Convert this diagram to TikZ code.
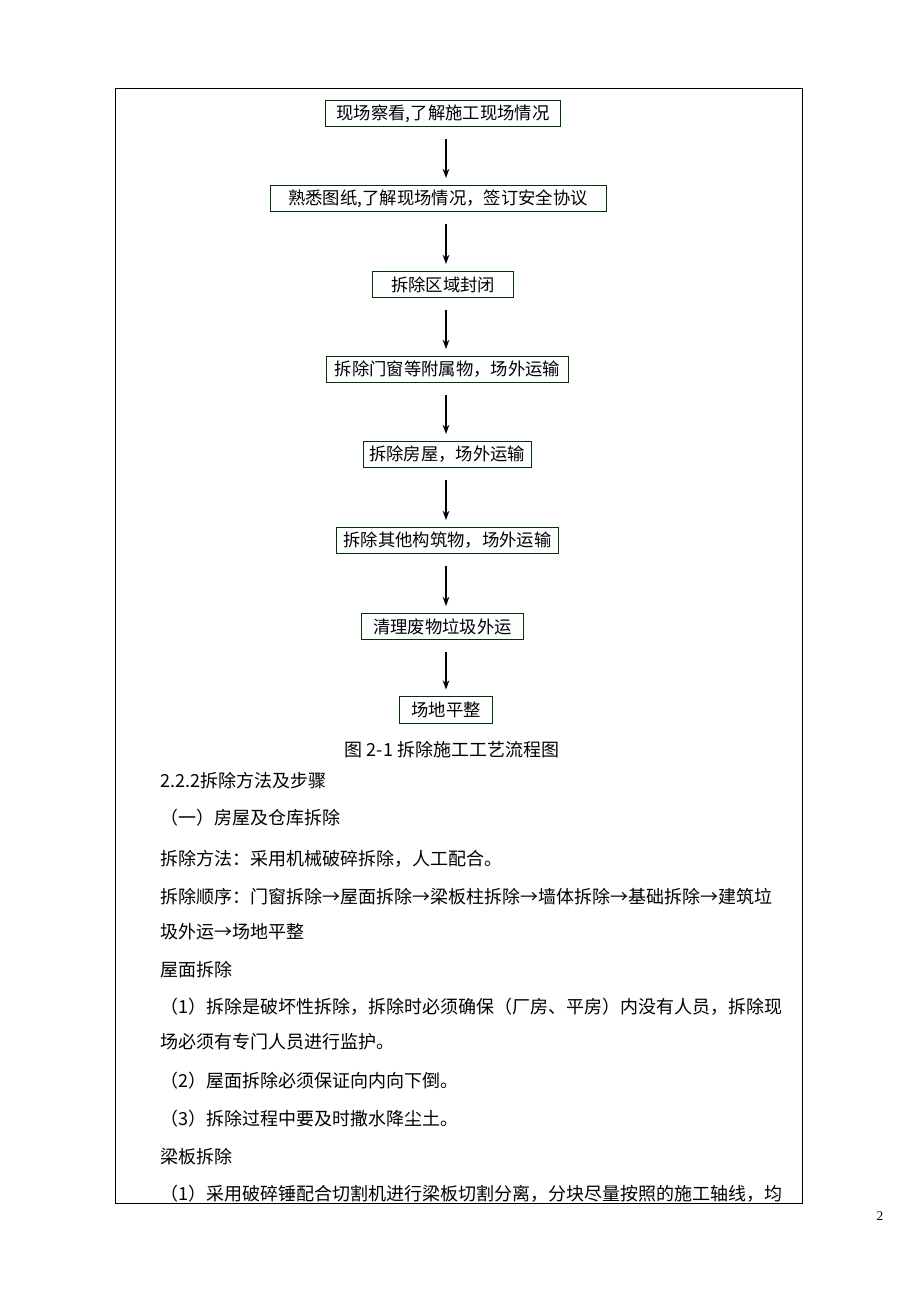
\documentclass[tikz,border=0pt]{standalone}
\usepackage{fontspec}
\setmainfont{Liberation Serif}
\newfontfamily\cjk{Noto Sans CJK SC}
\usetikzlibrary{arrows.meta}
\begin{document}
\begin{tikzpicture}[x=0.75pt,y=-0.75pt,
  bx/.style={draw=black!80!green,line width=0.6pt,inner sep=0pt,minimum height=20pt,font=\cjk\fontsize{13pt}{15pt}\selectfont},
  ar/.style={-{Stealth[length=7pt,width=5pt]},line width=1pt},
  tx/.style={anchor=west,inner sep=0pt,font=\cjk\fontsize{13.5pt}{15pt}\selectfont}]
\useasboundingbox (0,0) rectangle (920,1302);
\draw[line width=0.6pt] (115,88) rectangle (802,1203);
\node[bx,minimum width=176pt] (b1) at (443,113.5) {现场察看,了解施工现场情况};
\node[bx,minimum width=252pt] (b2) at (438,198.5) {熟悉图纸,了解现场情况，签订安全协议};
\node[bx,minimum width=106pt] (b3) at (443,284.5) {拆除区域封闭};
\node[bx,minimum width=182pt] (b4) at (447.5,369.5) {拆除门窗等附属物，场外运输};
\node[bx,minimum width=126pt] (b5) at (447,454.5) {拆除房屋，场外运输};
\node[bx,minimum width=167pt] (b6) at (447.5,540.5) {拆除其他构筑物，场外运输};
\node[bx,minimum width=121pt] (b7) at (442.5,626.5) {清理废物垃圾外运};
\node[bx,minimum width=70pt] (b8) at (446,710) {场地平整};
\foreach \a/\b in {b1/b2,b2/b3,b3/b4,b4/b5,b5/b6,b6/b7,b7/b8}
  \draw[ar] (\a.south -| 446,0) ++(0,12) -- ([yshift=5pt]\b.north -| 446,0);
\node[inner sep=0pt,font=\cjk\fontsize{13.5pt}{15pt}\selectfont] (cap) at (452,750) {图 2-1 拆除施工工艺流程图};
\node[tx] (t1) at (160,781) {2.2.2拆除方法及步骤};
\node[tx] (t2) at (160,818) {（一）房屋及仓库拆除};
\node[tx] (t3) at (160,859) {拆除方法：采用机械破碎拆除，人工配合。};
\node[tx] (t4) at (160,897) {拆除顺序：门窗拆除→屋面拆除→梁板柱拆除→墙体拆除→基础拆除→建筑垃};
\node[tx] (t5) at (160,932) {圾外运→场地平整};
\node[tx] (t6) at (160,970) {屋面拆除};
\node[tx] (t7) at (160,1007) {（1）拆除是破坏性拆除，拆除时必须确保（厂房、平房）内没有人员，拆除现};
\node[tx] (t8) at (160,1042) {场必须有专门人员进行监护。};
\node[tx] (t9) at (160,1081) {（2）屋面拆除必须保证向内向下倒。};
\node[tx] (t10) at (160,1119) {（3）拆除过程中要及时撒水降尘土。};
\node[tx] (t11) at (160,1157) {梁板拆除};
\node[tx] (t12) at (160,1194) {（1）采用破碎锤配合切割机进行梁板切割分离，分块尽量按照的施工轴线，均};
\node[inner sep=0pt,font=\fontsize{10pt}{12pt}\selectfont] (pg) at (880,1216) {2};
\end{tikzpicture}
\end{document}
